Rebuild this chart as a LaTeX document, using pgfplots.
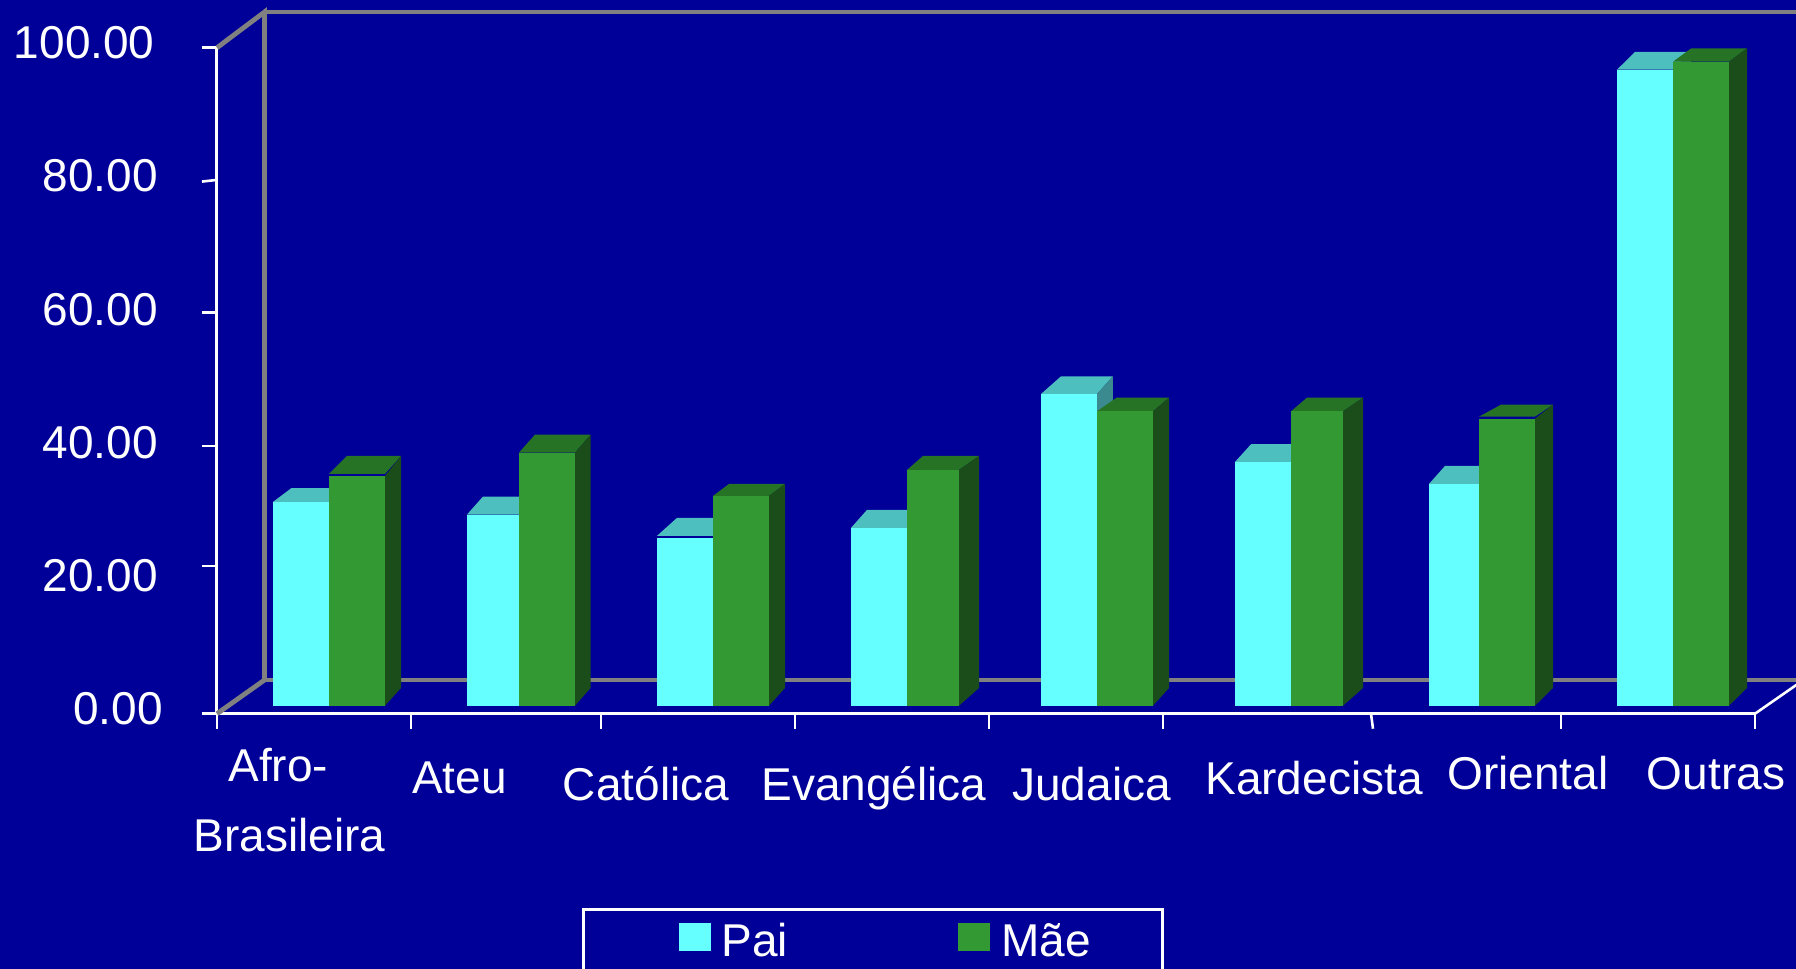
\documentclass[border=0pt]{standalone}
\usepackage{pgfplots}
\pgfplotsset{compat=1.18}
\usepackage{fontspec}
\setmainfont{Liberation Sans}
\definecolor{bg}{HTML}{000099}
\definecolor{wallgray}{HTML}{808080}
\definecolor{paif}{HTML}{66FFFF}
\definecolor{pait}{HTML}{4DBFBF}
\definecolor{pais}{HTML}{3A8A8F}
\definecolor{maef}{HTML}{339933}
\definecolor{maet}{HTML}{267326}
\definecolor{maes}{HTML}{1A4D1A}
\newdimen\pxd \pxd=0.5pt
\newcommand\xl[2]{\raisebox{-#1\pxd}[0pt][0pt]{\makebox[0pt]{#2}}}
\newcommand\yl[3]{\raisebox{#2\pxd}[0pt][0pt]{\llap{#3\kern#1\pxd}}}
\def\gap{0}
% x0, x1, value, left depth dx, right depth dx, depth dy (px), front, top, side
\newcommand\barr[9]{%
  \pgfmathsetmacro\xa{#1+#4}\pgfmathsetmacro\xb{#2+#5}%
  \pgfmathsetmacro\yt{#3+#6/6.66}\pgfmathsetmacro\yb{17.7/6.66}\pgfmathsetmacro\yg{#3+\gap}%
  \edef\temp{%
  \noexpand\addplot[fill=#8,draw=none,yshift=4pt,forget plot] coordinates {(#1,\yg)(\xa,\yt)(\xb,\yt)(#2,\yg)} --cycle;
  \noexpand\addplot[fill=#9,draw=none,yshift=4pt,forget plot] coordinates {(#2,0)(\xb,\yb)(\xb,\yt)(#2,#3)} --cycle;
  \noexpand\addplot[fill=#7,draw=none,yshift=4pt,forget plot] coordinates {(#1,0)(#1,#3)(#2,#3)(#2,0)} --cycle;
  }\temp}
\newcommand\pai[6]{\barr{#1}{#2}{#3}{#4}{#5}{#6}{paif}{pait}{pais}}
\newcommand\mae[6]{\barr{#1}{#2}{#3}{#4}{#5}{#6}{maef}{maet}{maes}}
\begin{document}
\begin{tikzpicture}
\path[use as bounding box,fill=bg] (-108.5pt,-127.65pt) rectangle (789.5pt,356.85pt);
\clip (-108.5pt,-127.65pt) rectangle (789.5pt,356.85pt);
\begin{axis}[
  at={(0pt,0pt)},anchor=south west,
  scale only axis,width=769pt,height=333pt,
  xmin=217,xmax=1755,ymin=0,ymax=100,clip=false,
  axis x line=bottom,axis y line=left,
  axis line style={-,white,line width=1.5pt},
  tick align=outside,
  major tick length=7.5pt,minor tick length=7.5pt,
  tick style={white,line width=1.3pt},
  every major x tick/.append style={draw=none},
  every major y tick/.append style={draw=none},
  xtick={289.7,459.4,646,874,1091.6,1314,1528,1716},
  xticklabels={
    {\xl{53}{\kern-23\pxd Afro-}\xl{123}{Brasileira}},
    {\xl{64.3}{Ateu}},
    {\xl{71.3}{Católica}},
    {\xl{71.3}{Evangélica}},
    {\xl{71.3}{Judaica}},
    {\xl{66}{Kardecista}},
    {\xl{60.3}{Oriental}},
    {\xl{60.3}{Outras}}},
  minor xtick={217,411,601,795,989,1163,1561,1755},
  ytick={0,20,40,60,80,100},
  yticklabels={
    {\yl{38}{-11}{0.00}},
    {\yl{43}{-11}{20.00}},
    {\yl{43}{-11}{40.00}},
    {\yl{43}{-11}{60.00}},
    {\yl{43}{-11}{80.00}},
    {\yl{46}{-11}{100.00}}},
  minor ytick={0,22.2,40.2,60.2,100},
  tick label style={font=\fontsize{23}{28}\selectfont,text=white,inner sep=0pt},
  x tick label style={anchor=base},
  y tick label style={anchor=east},
  legend columns=2,
  legend style={at={(axis cs:582.4,-29.2)},anchor=north west,fill=bg,draw=white,line width=1.3pt,
    inner xsep=47.5pt,inner ysep=6.85pt,text=white,
    font=\fontsize{23}{28}\selectfont,
    nodes={inner sep=0pt},
    /tikz/every odd column/.style={column sep=5.5pt},
    /tikz/every even column/.style={column sep=85pt}},
  legend image code/.code={\fill[#1,draw=none] (0pt,-4.55pt) rectangle (16pt,9.3pt);},
]
\addlegendimage{fill=paif}\addlegendentry{Pai\rule[-4pt]{0pt}{1pt}}
\addlegendimage{fill=maef}\addlegendentry{Mãe\kern-11.5pt\rule[-4pt]{0pt}{1pt}}
% back wall and floor
\addplot[wallgray,line width=2.4pt,forget plot] coordinates {(217,100)(264.5,105.36)(264.5,5.06)(217,0)};
\addplot[wallgray,line width=2.4pt,forget plot] coordinates {(264.5,105.36)(1800,105.36)};
\addplot[wallgray,line width=2.4pt,forget plot] coordinates {(264.5,5.06)(1800,5.06)};
\addplot[white,line width=1.3pt,forget plot] coordinates {(1755,0)(1800,4.7)};
\addplot[white,line width=1.3pt,forget plot] coordinates {(1371,0)(1373,-2.25)};
\addplot[white,line width=1.3pt,forget plot] coordinates {(202,79.9)(217,80.15)};
% bars
\pai{273}{329}{30.6}{18.3}{16}{13.7}
\def\gap{0.3}\mae{329}{385}{34.5}{18}{16}{20}\def\gap{0}
\pai{467}{519}{28.7}{16}{15.6}{18}
\mae{519}{575}{38.0}{16}{15.6}{18}
\def\gap{0.3}\pai{657}{713}{25.2}{20}{16}{20}\def\gap{0}
\mae{713}{769}{31.5}{16}{16}{12}
\pai{851}{907}{26.7}{16}{16}{18}
\mae{907}{959}{35.4}{16}{20}{14}
\pai{1041}{1097}{46.8}{20}{15.8}{17.7}
\mae{1097}{1153}{44.2}{19.6}{16}{13.7}
\pai{1235}{1291}{36.6}{16}{16}{17.7}
\mae{1291}{1343}{44.2}{16}{20}{13.7}
\pai{1429}{1479}{33.3}{16}{16}{18}
\def\gap{0.3}\mae{1479}{1535}{43.1}{22}{18}{14}\def\gap{0}
\pai{1617}{1673}{95.5}{18}{18}{17.7}
\mae{1673}{1729}{96.7}{18.3}{18}{13.4}
\end{axis}
\end{tikzpicture}
\end{document}
